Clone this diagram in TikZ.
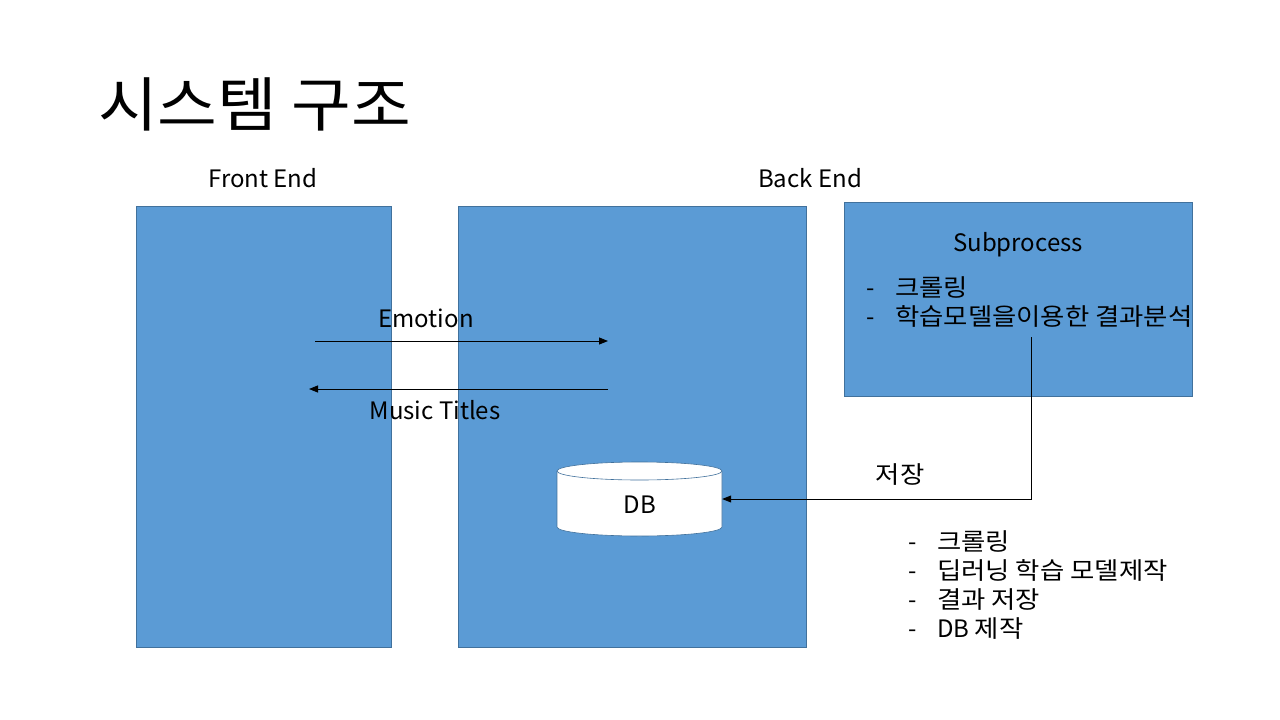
\documentclass[tikz,border=0pt]{standalone}
\usepackage{fontspec}
\setmainfont{Noto Sans CJK KR}
\newfontfamily\krfont[FakeStretch=1.1]{Noto Sans CJK KR}
\newcommand{\kr}[1]{{\krfont #1}}
\usetikzlibrary{arrows.meta}
\definecolor{boxfill}{HTML}{5B9BD5}
\definecolor{boxline}{HTML}{41719C}
\begin{document}
\begin{tikzpicture}[x=1pt,y=-1pt,
  panel/.style={draw=boxline,fill=boxfill,line width=0.8pt},
  lbl/.style={font=\fontsize{24}{29}\selectfont,inner sep=0pt},
  arr/.style={line width=0.9pt,-{Triangle[length=9pt,width=7pt]}},
  bul/.style={lbl,align=left,anchor=north west}]
\useasboundingbox (0,0) rectangle (1280,720);
\node[anchor=west,inner sep=0pt,font=\fontsize{59}{64}\selectfont] (title) at (98,104) {\kr{시스템 구조}};
\draw[panel] (136,206) rectangle (391,647);
\draw[panel] (458,206) rectangle (806,647);
\draw[panel] (844,202) rectangle (1192,396);
\node[lbl] (fe) at (263,178) {Front End};
\node[lbl] (be) at (810,178) {Back End};
\node[lbl] (sub) at (1018,245) {Subprocess};
\node[bul] (sublist) at (866,276) {\makebox[29pt][l]{-}\kr{크롤링}\\\makebox[29pt][l]{-}\kr{학습모델을이용한 결과분석}};
\node[lbl] (emo) at (426,318) {Emotion};
\node[lbl] (mus) at (435,410) {Music Titles};
\coordinate (e1) at (315,341);
\coordinate (e2) at (608,341);
\coordinate (m1) at (608,389);
\coordinate (m2) at (309,389);
\draw[arr] (e1) -- (e2);
\draw[arr] (m1) -- (m2);
% DB cylinder
\draw[draw=boxline,fill=white,line width=0.6pt]
  (557,471) -- (557,527) arc[start angle=180,end angle=0,x radius=82.5,y radius=9]
  -- (722,471) arc[start angle=0,end angle=-180,x radius=82.5,y radius=9] -- cycle;
\draw[draw=boxline,line width=0.6pt] (557,471) arc[start angle=180,end angle=0,x radius=82.5,y radius=9];
\node[inner sep=0pt,minimum width=165pt,minimum height=56pt] (db) at (639.5,499) {};
\node[lbl] (dbl) at (640,505) {DB};
\coordinate (sp) at (1031,337);
\draw[arr] (sp) |- (db.east);
\node[lbl] (save) at (900,475) {\kr{저장}};
\node[bul] (list) at (908,530) {\makebox[29pt][l]{-}\kr{크롤링}\\\makebox[29pt][l]{-}\kr{딥러닝 학습 모델제작}\\\makebox[29pt][l]{-}\kr{결과 저장}\\\makebox[29pt][l]{-}DB \kr{제작}};
\end{tikzpicture}
\end{document}
